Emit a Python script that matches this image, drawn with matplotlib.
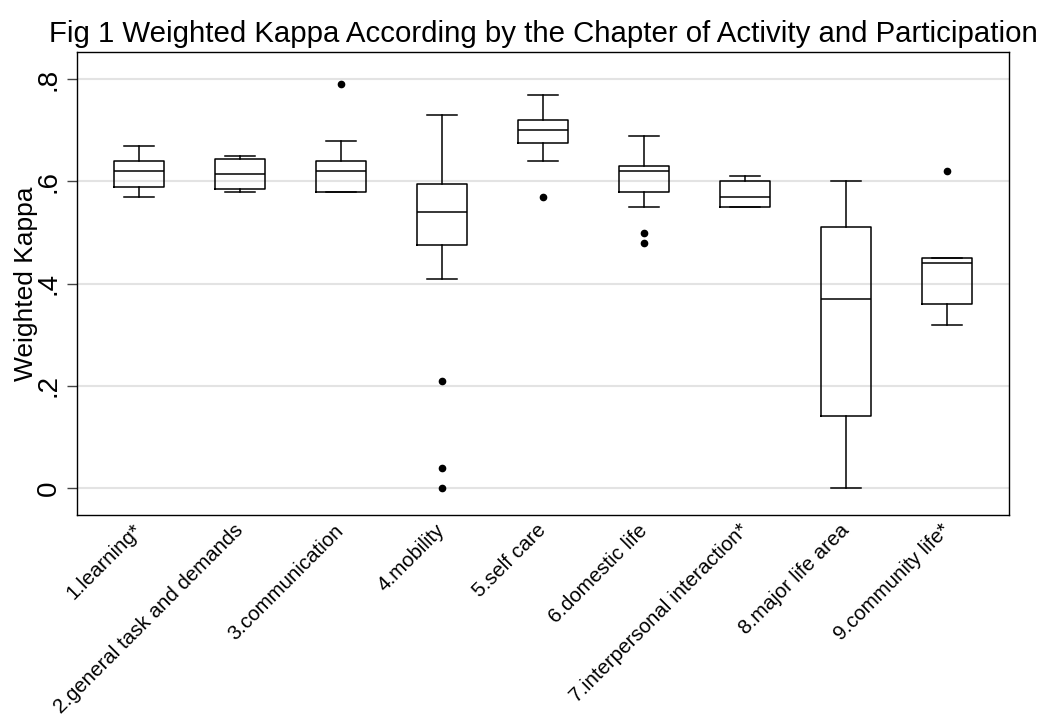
import matplotlib
matplotlib.use("Agg")
import matplotlib.pyplot as plt

plt.rcParams['font.family'] = ['Liberation Sans', 'DejaVu Sans']

# Kapitel und Kennwerte der Boxplots
categories = ["1.learning*", "2.general task and demands", "3.communication",
              "4.mobility", "5.self care", "6.domestic life",
              "7.interpersonal interaction*", "8.major life area",
              "9.community life*"]
whislo = [0.57, 0.58, 0.58, 0.41, 0.64, 0.55, 0.55, 0.00, 0.32]
q1 = [0.59, 0.585, 0.58, 0.475, 0.675, 0.58, 0.55, 0.14, 0.36]
med = [0.62, 0.615, 0.62, 0.54, 0.70, 0.62, 0.57, 0.37, 0.44]
q3 = [0.64, 0.645, 0.64, 0.595, 0.72, 0.63, 0.60, 0.51, 0.45]
whishi = [0.67, 0.65, 0.68, 0.73, 0.77, 0.69, 0.61, 0.60, 0.45]
fliers = [[], [], [0.79], [0.21, 0.04, 0.0], [0.57], [0.50, 0.48], [], [], [0.62]]

yticks = [0, 0.2, 0.4, 0.6, 0.8]
ytick_labels = ["0", ".2", ".4", ".6", ".8"]

stats = []
for i, name in enumerate(categories):
    stats.append({
        'label': name,
        'whislo': whislo[i],
        'q1': q1[i],
        'med': med[i],
        'q3': q3[i],
        'whishi': whishi[i],
        'fliers': fliers[i],
    })

fig = plt.figure(figsize=(10.42, 7.15), dpi=100)
ax = fig.add_axes([0.0739, 0.2797, 0.8944, 0.6472])

line_props = dict(color='black', linewidth=1.1)
ax.bxp(stats, positions=range(1, len(categories) + 1), widths=0.5,
       capwidths=0.3, showfliers=True,
       boxprops=line_props, whiskerprops=line_props, capprops=line_props,
       medianprops=line_props,
       flierprops=dict(marker='o', markerfacecolor='black',
                       markeredgecolor='black', markersize=4.5))

# Gitterlinien wie in Stata
ax.set_yticks(yticks)
ax.set_yticklabels(ytick_labels)
ax.yaxis.grid(True, color='#e3e3e3', linewidth=1.5)
ax.set_axisbelow(True)
ax.set_xlim(0.386, 9.614)
ax.set_ylim(-0.053, 0.853)

for side in ax.spines.values():
    side.set_linewidth(1.0)
    side.set_color('black')

ax.tick_params(axis='y', length=7.2, width=1, color='#444444', pad=4, labelsize=20)
ax.tick_params(axis='x', length=0, pad=9, labelsize=14.8)
plt.setp(ax.get_yticklabels(), rotation=90, va='center')
plt.setp(ax.get_xticklabels(), rotation=45, ha='right', va='center',
         rotation_mode='anchor')

ax.set_ylabel('Weighted Kappa', fontsize=19)
ax.yaxis.set_label_coords(-0.042, 0.5)
ax.set_title('Fig 1 Weighted Kappa According by the Chapter of Activity and Participation',
             fontsize=21.2, pad=7.6)

fig.savefig('out.png', dpi=100)
